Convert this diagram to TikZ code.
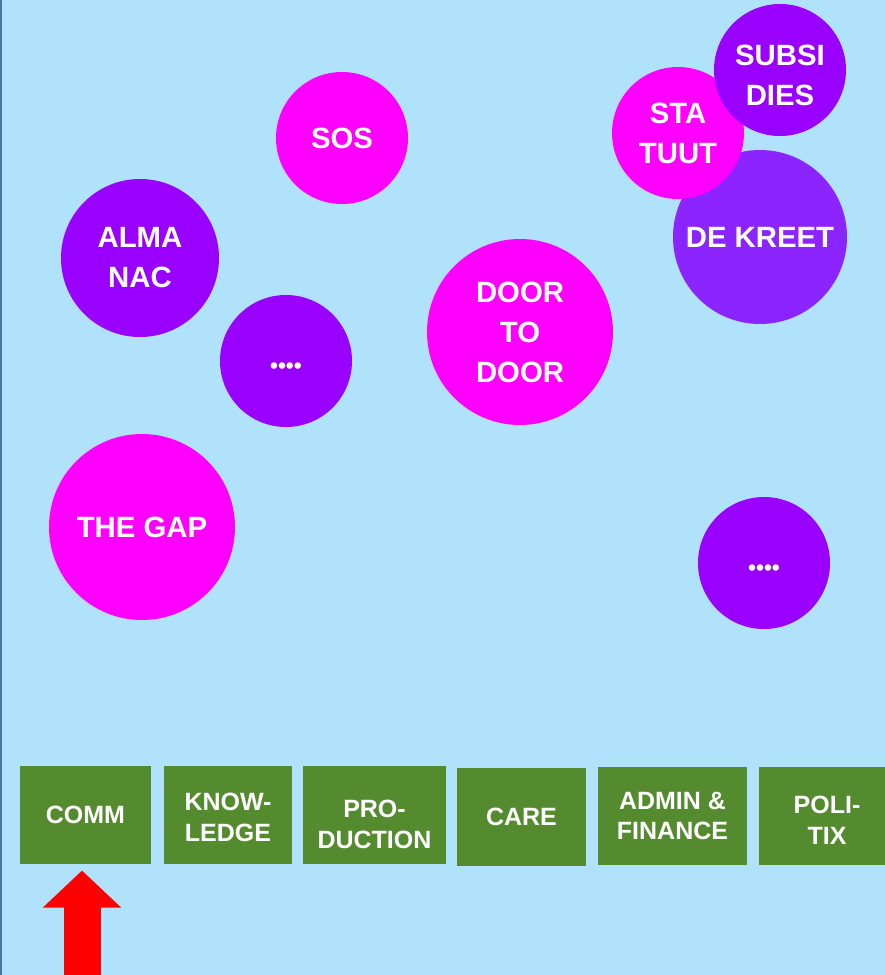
\documentclass[tikz,border=0pt]{standalone}
\usepackage{fontspec}
\setmainfont{Liberation Sans}
\usetikzlibrary{arrows.meta}

\definecolor{skybg}{RGB}{177,226,252}
\definecolor{edgeblue}{RGB}{70,120,160}
\definecolor{bubblepink}{RGB}{255,0,255}
\definecolor{bubblepurple}{RGB}{153,0,255}
\definecolor{kreetpurple}{RGB}{139,36,255}
\definecolor{deptgreen}{RGB}{85,139,47}
\definecolor{arrowred}{RGB}{255,0,0}

\newcommand{\bubbledots}{\vphantom{A}{\fontsize{17}{17}\selectfont\raisebox{-4pt}{\textbullet\textbullet\textbullet\textbullet}}}

\tikzset{every picture/.style={line width=0.75pt}}
\tikzset{
  bubble/.style={circle, inner sep=0pt, align=center, text=white,
    font=\bfseries\fontsize{22}{30}\selectfont},
  dept/.style={rectangle, fill=deptgreen, inner sep=0pt, minimum height=73.5pt,
    align=center, text=white, font=\bfseries\fontsize{18.75}{23}\selectfont},
}

\begin{document}
\begin{tikzpicture}[x=0.75pt,y=0.75pt,yscale=-1,xscale=1]
\useasboundingbox (0,0) rectangle (885,975);
%Background
\fill [skybg] (0,0) rectangle (885,975);
\draw [edgeblue][line width=1.5] (0.8,0) -- (0.8,975);

% Bubble Nodes
\node [bubble, fill=bubblepink, minimum size=99pt] (sos) at (342,138) {SOS};
\node [bubble, fill=kreetpurple, minimum size=130.5pt] (kreet) at (760,237) {DE KREET};
\node [bubble, fill=bubblepink, minimum size=99pt] (statuut) at (678,133) {STA\\TUUT};
\node [bubble, fill=bubblepurple, minimum size=99pt] (subsidies) at (780,70) {\rule{0pt}{24pt}SUBSI\\DIES};
\node [bubble, fill=bubblepurple, minimum size=118.5pt] (almanac) at (140,258) {ALMA\\NAC};
\node [bubble, fill=bubblepurple, minimum size=99pt] (moreleft) at (286,361) {\bubbledots};
\node [bubble, fill=bubblepink, minimum size=139.5pt] (doortodoor) at (520,332) {DOOR\\TO\\DOOR};
\node [bubble, fill=bubblepink, minimum size=139.5pt] (thegap) at (142,527) {THE GAP};
\node [bubble, fill=bubblepurple, minimum size=99pt] (moreright) at (764,563) {\bubbledots};

% Department Nodes
\node [dept, minimum width=98.25pt] (comm) at (85.5,815) {COMM};
\node [dept, minimum width=96pt] (knowledge) at (228,815) {\rule{0pt}{17pt}KNOW-\\LEDGE};
\node [dept, minimum width=107.25pt] (production) at (374.5,815) {\rule{0pt}{27pt}PRO-\\DUCTION};
\node [dept, minimum width=96.75pt] (care) at (521.5,817) {CARE};
\node [dept, minimum width=111.75pt] (admin) at (672.5,816) {ADMIN \&\\FINANCE};
\node [dept, minimum width=102pt] (politix) at (827,816) {\rule{0pt}{19pt}POLI-\\TIX};

%Arrow
\coordinate (arrowfoot) at (82,990);
\draw [arrowred, line width=27.75pt, -{Triangle[width=57pt,length=27.75pt]}, shorten >=4.5pt]
  (arrowfoot) -- (arrowfoot |- comm.south);
\end{tikzpicture}
\end{document}
